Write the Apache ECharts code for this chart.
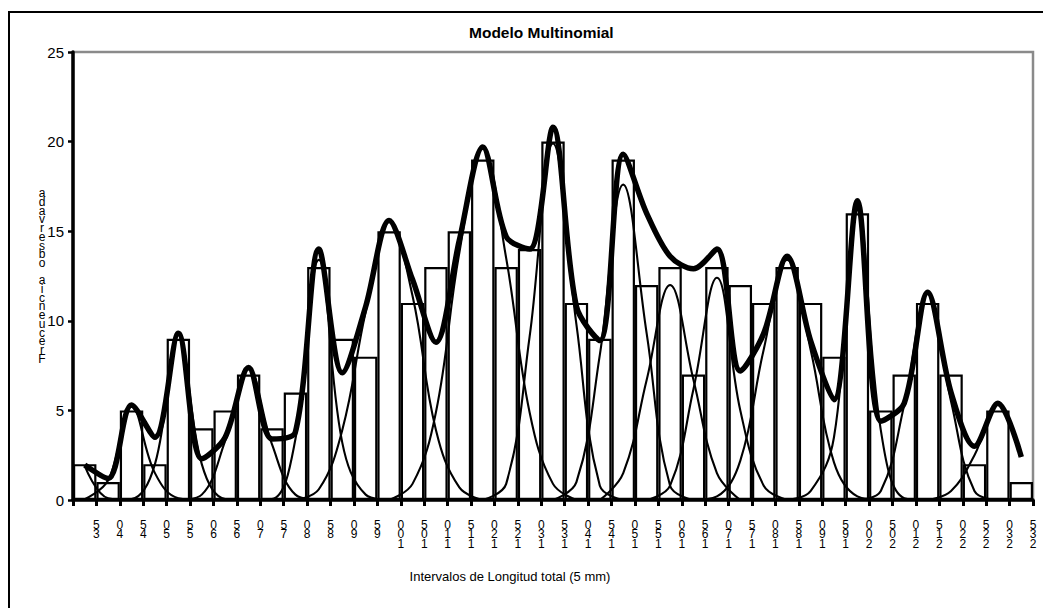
<!DOCTYPE html>
<html><head><meta charset="utf-8">
<script src="https://cdn.jsdelivr.net/npm/echarts@6/dist/echarts.min.js"></script>
<style>html,body{margin:0;padding:0;background:#fff}#c{width:1043px;height:608px}</style>
</head><body><div id="c"></div>
<script>
const chartTitle = 'Modelo Multinomial';
const xAxisTitle = 'Intervalos de Longitud total (5 mm)';
const yAxisTitle = 'Frecuencia observada';
const binStart = 30, binWidth = 5;
const xTickLabels = ['35','40','45','50','55','60','65','70','75','80','85','90','95','100','105','110','115','120','125','130','135','140','145','150','155','160','165','170','175','180','185','190','195','200','205','210','215','220','225','230','235'];
const observed = [2,1,5,2,9,4,5,7,4,6,13,9,8,15,11,13,15,19,13,14,20,11,9,19,12,13,7,13,12,11,13,11,8,16,5,7,11,7,2,5,1];
const totalModel = [1.95,1.2,5.3,3.5,9.3,2.3,3.5,7.4,3.4,3.8,14.0,7.1,10.8,15.6,12.3,8.8,14.5,19.7,14.7,14.0,20.8,10.8,8.9,19.3,16.0,13.6,12.9,14.0,7.2,9.3,13.6,8.9,5.6,16.7,4.4,5.4,11.6,6.0,3.0,5.4,2.4];
// each component: first bin index and its values at consecutive bin centres
const compA = {from: 0, y: [1.9, 0.1, 0]};
const compB = {from: 0, y: [0.05, 1.1, 5.2, 1.5, 0.1, 0]};
const compC = {from: 1, y: [0, 0.05, 2.0, 9.2, 2.0, 0.05, 0]};
const compD = {from: 4, y: [0, 0.3, 3.3, 7.3, 3.1, 0.3, 0]};
const compE = {from: 7, y: [0, 0.05, 3.4, 13.4, 3.2, 0.3, 0]};
const compF = {from: 9, y: [0, 0.6, 3.9, 10.5, 15.6, 11.4, 3.9, 0.7, 0]};
const compG = {from: 13, y: [0, 0.9, 4.9, 13.8, 19.6, 13.5, 4.9, 0.9, 0]};
const compH = {from: 17, y: [0, 0.9, 9.1, 19.9, 9.8, 0.8, 0]};
const compI = {from: 20, y: [0, 1.0, 8.1, 17.6, 9.3, 0.8, 0]};
const compJ = {from: 22, y: [0, 1.5, 6.7, 12.0, 6.7, 1.5, 0]};
const compK = {from: 24, y: [0, 0.8, 6.2, 12.4, 5.0, 0.8, 0]};
const compL = {from: 26, y: [0, 0.2, 2.2, 8.4, 13.4, 8.4, 2.1, 0.2, 0]};
const compM = {from: 30, y: [0, 0.5, 3.5, 16.4, 3.9, 0.1, 0]};
const compN = {from: 33, y: [0, 0.5, 5.3, 11.5, 5.5, 0.5, 0]};
const compO = {from: 36, y: [0, 0.5, 2.5, 5.3, 2.4]};
const components = [compA, compB, compC, compD, compE, compF, compG, compH, compI, compJ, compK, compL, compM, compN, compO];

const FONT = "'Liberation Sans', Arial, sans-serif";
const centers = observed.map((_, i) => binStart + binWidth * (i + 0.5));
const stackRev = s => s.split('').reverse().join('\n');

const series = [{
  type: 'bar',
  data: observed.map((v, i) => [centers[i], v]),
  barWidth: '100%',
  itemStyle: {color: '#fff', borderColor: '#000', borderWidth: 2.2},
  z: 1, silent: true
}];
components.forEach(c => series.push({
  type: 'line',
  data: c.y.map((v, k) => [centers[c.from + k], v]),
  smooth: 0.4, showSymbol: false, silent: true,
  lineStyle: {color: '#000', width: 2.1}, z: 2
}));
series.push({
  type: 'line',
  data: totalModel.map((v, i) => [centers[i], v]),
  smooth: 0.32, showSymbol: false, silent: true,
  lineStyle: {color: '#000', width: 5.5}, z: 3
});

const chart = echarts.init(document.getElementById('c'), null, {renderer: 'svg'});
chart.setOption({
  animation: false,
  backgroundColor: '#fff',
  textStyle: {fontFamily: FONT},
  title: {
    text: chartTitle, left: 469, top: 24, padding: 0,
    textStyle: {fontSize: 15.5, fontWeight: 'bold', color: '#000', fontFamily: FONT}
  },
  grid: {left: 73, right: 10, top: 52, bottom: 108, show: true, borderColor: '#8a8a8a', borderWidth: 2.5, backgroundColor: '#fff', containLabel: false, outerBoundsMode: 'none'},
  xAxis: {
    type: 'value', min: binStart, max: binStart + binWidth * observed.length, interval: binWidth,
    axisLine: {show: true, onZero: false, lineStyle: {color: '#000', width: 3.5}},
    axisTick: {show: true, length: 6, lineStyle: {color: '#000', width: 3}},
    splitLine: {show: false},
    axisLabel: {
      color: '#000', fontSize: 12, lineHeight: 9.6, margin: 20, fontFamily: FONT,
      formatter: v => { const s = String(v); return xTickLabels.includes(s) ? stackRev(s) : ''; }
    },
    name: xAxisTitle, nameLocation: 'middle', nameGap: 70, nameMoveOverlap: false,
    nameTextStyle: {color: '#000', fontSize: 13, fontFamily: FONT, padding: [0, 86, 0, 0]}
  },
  yAxis: {
    type: 'value', min: 0, max: 25, interval: 5,
    axisLine: {show: true, lineStyle: {color: '#000', width: 3.5}},
    axisTick: {show: true, length: 5, lineStyle: {color: '#000', width: 2.5}},
    splitLine: {show: false},
    axisLabel: {color: '#000', fontSize: 15, margin: 9, fontFamily: FONT},
    name: stackRev(yAxisTitle), nameLocation: 'middle', nameRotate: 0, nameGap: 31, nameMoveOverlap: false,
    nameTextStyle: {color: '#000', fontSize: 12, lineHeight: 8.7, align: 'center', verticalAlign: 'middle', fontFamily: FONT}
  },
  graphic: [{
    type: 'rect', silent: true, z: -10,
    shape: {x: 9, y: 12, width: 1200, height: 800},
    style: {fill: 'transparent', stroke: '#000', lineWidth: 2}
  }],
  series: series
});
</script></body></html>
